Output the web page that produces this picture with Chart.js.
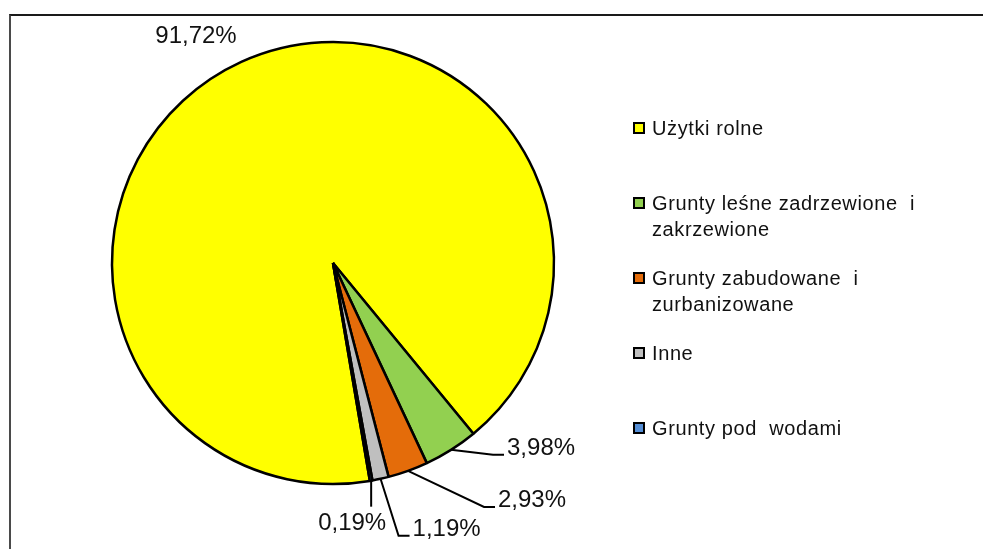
<!DOCTYPE html>
<html>
<head>
<meta charset="utf-8">
<script src="https://cdn.jsdelivr.net/npm/chart.js@4.4.1/dist/chart.umd.min.js"></script>
<style>
  body { margin: 0; background: #fff; width: 983px; height: 549px; overflow: hidden; position: relative; font-family: "Liberation Sans", Arial, sans-serif; }
  .frame { position: absolute; left: 9px; top: 14px; width: 1100px; height: 700px; border-top: 2px solid #1a1a1a; border-left: 2px solid #4a4a4a; }
  #pie { position: absolute; left: 0; top: 0; }
  .legend-item { position: absolute; left: 633px; display: flex; align-items: flex-start; }
  .legend-box { width: 12px; height: 12px; box-sizing: border-box; border: 2px solid #000; margin-top: 7px; margin-right: 7px; flex: none; }
  .legend-text { width: 300px; font-size: 20px; line-height: 26px; letter-spacing: 0.6px; color: #111; white-space: pre-wrap; }
</style>
</head>
<body>
<div class="frame"></div>
<canvas id="pie" width="983" height="549"></canvas>
<div id="legend"></div>
<script>
const labels = ['Użytki rolne', 'Grunty leśne zadrzewione  i zakrzewione', 'Grunty zabudowane  i zurbanizowane', 'Inne', 'Grunty pod  wodami'];
const values = [91.72, 3.98, 2.93, 1.19, 0.19];
const colors = ['#FFFF00', '#92D050', '#E46C0A', '#BFBFBF', '#558ED5'];

// label placement: text left/baseline offset from the slice's outer edge point
const labelOffsets = [[-86, -19], [56, 5], [90, 36], [32, 57], [-53, 49]];
const leaderStyle = ['none', 'elbow', 'elbow', 'elbow', 'down'];

// legend built by hand so the long names wrap like the original
const legend = document.getElementById('legend');
labels.forEach((label, i) => {
  const item = document.createElement('div');
  item.className = 'legend-item';
  item.style.top = (128 - 13 + 75 * i) + 'px';
  item.innerHTML = `<div class="legend-box" style="background:${colors[i]}"></div><div class="legend-text">${label}</div>`;
  legend.appendChild(item);
});

const pieLabels = {
  id: 'pieLabels',
  afterDatasetsDraw(chart) {
    const ctx = chart.ctx;
    const meta = chart.getDatasetMeta(0);
    ctx.save();
    ctx.font = '24px "Liberation Sans", Arial, sans-serif';
    ctx.fillStyle = '#111';
    ctx.strokeStyle = '#000';
    ctx.lineWidth = 2;
    ctx.textBaseline = 'alphabetic';
    ctx.textAlign = 'left';
    meta.data.forEach((arc, i) => {
      const mid = (arc.startAngle + arc.endAngle) / 2;
      const ex = arc.x + Math.cos(mid) * arc.outerRadius;
      const ey = arc.y + Math.sin(mid) * arc.outerRadius;
      const tx = ex + labelOffsets[i][0];
      const ty = ey + labelOffsets[i][1];
      if (leaderStyle[i] === 'elbow') {
        ctx.beginPath();
        ctx.moveTo(ex, ey);
        ctx.lineTo(tx - 14, ty);
        ctx.lineTo(tx - 3, ty);
        ctx.stroke();
      } else if (leaderStyle[i] === 'down') {
        ctx.beginPath();
        ctx.moveTo(ex, ey);
        ctx.lineTo(ex, ty - 23);
        ctx.stroke();
      }
      const txt = values[i].toFixed(2).replace('.', ',') + '%';
      ctx.fillText(txt, tx, ty);
    });
    ctx.restore();
  }
};

new Chart(document.getElementById('pie'), {
  type: 'pie',
  data: {
    labels: labels,
    datasets: [{
      data: values,
      backgroundColor: colors,
      borderColor: '#000',
      borderWidth: 2.5
    }]
  },
  options: {
    responsive: false,
    animation: false,
    rotation: 170.4,
    radius: 221,
    layout: { padding: { left: 0, top: 0, right: 317, bottom: 23 } },
    plugins: {
      legend: { display: false },
      tooltip: { enabled: false }
    }
  },
  plugins: [pieLabels]
});
</script>
</body>
</html>
